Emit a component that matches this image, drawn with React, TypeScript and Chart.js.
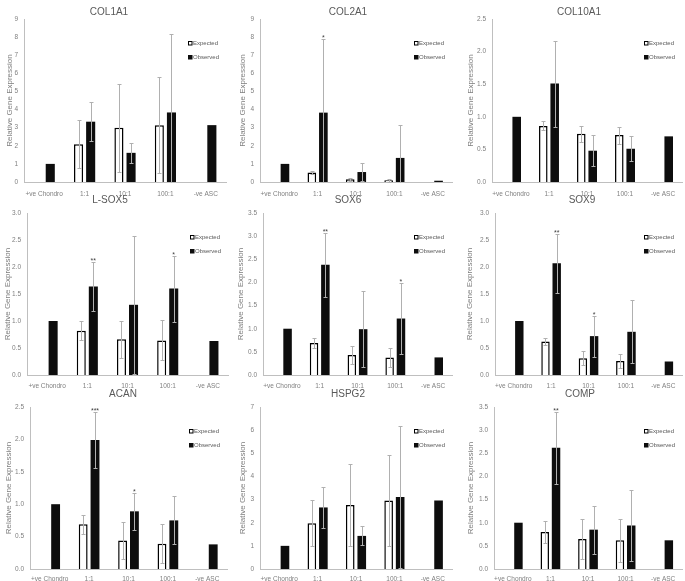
import React, { useEffect, useRef } from "react";
import { Chart, registerables } from "chart.js";

Chart.register(...registerables);

// ---------- data ----------
const categories = ["+ve Chondro", "1:1", "10:1", "100:1", "-ve ASC"];
const seriesNames = ["Expected", "Observed"];
const axisTitle = "Relative Gene Expression";

const col1a1Expected = [null, 2.09, 2.99, 3.14, null];
const col1a1ExpectedErr = [null, 1.33, 2.42, 2.65, null];
const col1a1Observed = [1.0, 3.33, 1.61, 3.84, 3.14];
const col1a1ObservedErr = [0, 1.07, 0.57, 4.35, 0];
const col1a1Stars = ["", "", "", "", ""];

const col2a1Expected = [null, 0.52, 0.15, 0.09, null];
const col2a1ExpectedErr = [null, 0.07, 0.08, 0.08, null];
const col2a1Observed = [1.0, 3.83, 0.55, 1.33, 0.07];
const col2a1ObservedErr = [0, 4.06, 0.5, 1.8, 0];
const col2a1Stars = ["", "*", "", "", ""];

const col10a1Expected = [null, 0.86, 0.74, 0.72, null];
const col10a1ExpectedErr = [null, 0.07, 0.12, 0.13, null];
const col10a1Observed = [1.0, 1.51, 0.48, 0.51, 0.7];
const col10a1ObservedErr = [0, 0.66, 0.24, 0.19, 0];
const col10a1Stars = ["", "", "", "", ""];

const lsox5Expected = [null, 0.82, 0.66, 0.64, null];
const lsox5ExpectedErr = [null, 0.18, 0.34, 0.37, null];
const lsox5Observed = [1.0, 1.64, 1.3, 1.6, 0.63];
const lsox5ObservedErr = [0, 0.46, 1.28, 0.61, 0];
const lsox5Stars = ["", "**", "", "*", ""];

const sox6Expected = [null, 0.69, 0.43, 0.38, null];
const sox6ExpectedErr = [null, 0.1, 0.19, 0.21, null];
const sox6Observed = [1.0, 2.38, 0.99, 1.22, 0.38];
const sox6ObservedErr = [0, 0.69, 0.82, 0.77, 0];
const sox6Stars = ["", "**", "", "*", ""];

const sox9Expected = [null, 0.62, 0.31, 0.26, null];
const sox9ExpectedErr = [null, 0.07, 0.13, 0.13, null];
const sox9Observed = [1.0, 2.07, 0.72, 0.8, 0.25];
const sox9ObservedErr = [0, 0.55, 0.38, 0.58, 0];
const sox9Stars = ["", "**", "*", "", ""];

const acanExpected = [null, 0.69, 0.44, 0.39, null];
const acanExpectedErr = [null, 0.15, 0.28, 0.3, null];
const acanObserved = [1.0, 1.99, 0.89, 0.75, 0.38];
const acanObservedErr = [0, 0.43, 0.29, 0.37, 0];
const acanStars = ["", "***", "*", "", ""];

const hspg2Expected = [null, 1.98, 2.77, 2.96, null];
const hspg2ExpectedErr = [null, 0.98, 1.77, 1.95, null];
const hspg2Observed = [1.0, 2.66, 1.43, 3.11, 2.96];
const hspg2ObservedErr = [0, 0.88, 0.41, 3.08, 0];
const hspg2Stars = ["", "", "", "", ""];

const compExpected = [null, 0.8, 0.65, 0.62, null];
const compExpectedErr = [null, 0.24, 0.43, 0.46, null];
const compObserved = [1.0, 2.62, 0.85, 0.94, 0.62];
const compObservedErr = [0, 0.78, 0.52, 0.77, 0];
const compStars = ["", "**", "", "", ""];

const yMaxes = [9, 9, 2.5, 3, 3.5, 3, 2.5, 7, 3.5];
const ySteps = [1, 1, 0.5, 0.5, 0.5, 0.5, 0.5, 1, 0.5];
const yDecimals = [0, 0, 1, 1, 1, 1, 1, 0, 1];

type Panel = {
  title: string;
  expected: (number | null)[];
  expectedErr: (number | null)[];
  observed: number[];
  observedErr: number[];
  stars: string[];
};

const panels: Panel[] = [
  { title: "COL1A1", expected: col1a1Expected, expectedErr: col1a1ExpectedErr, observed: col1a1Observed, observedErr: col1a1ObservedErr, stars: col1a1Stars },
  { title: "COL2A1", expected: col2a1Expected, expectedErr: col2a1ExpectedErr, observed: col2a1Observed, observedErr: col2a1ObservedErr, stars: col2a1Stars },
  { title: "COL10A1", expected: col10a1Expected, expectedErr: col10a1ExpectedErr, observed: col10a1Observed, observedErr: col10a1ObservedErr, stars: col10a1Stars },
  { title: "L-SOX5", expected: lsox5Expected, expectedErr: lsox5ExpectedErr, observed: lsox5Observed, observedErr: lsox5ObservedErr, stars: lsox5Stars },
  { title: "SOX6", expected: sox6Expected, expectedErr: sox6ExpectedErr, observed: sox6Observed, observedErr: sox6ObservedErr, stars: sox6Stars },
  { title: "SOX9", expected: sox9Expected, expectedErr: sox9ExpectedErr, observed: sox9Observed, observedErr: sox9ObservedErr, stars: sox9Stars },
  { title: "ACAN", expected: acanExpected, expectedErr: acanExpectedErr, observed: acanObserved, observedErr: acanObservedErr, stars: acanStars },
  { title: "HSPG2", expected: hspg2Expected, expectedErr: hspg2ExpectedErr, observed: hspg2Observed, observedErr: hspg2ObservedErr, stars: hspg2Stars },
  { title: "COMP", expected: compExpected, expectedErr: compExpectedErr, observed: compObserved, observedErr: compObservedErr, stars: compStars },
];

// ---------- layout (absolute page pixels) ----------
type Frame = { x: number; y: number; w: number; h: number; L: number; R: number; T: number; B: number; yTitleX: number; titleX: number; titleY: number; xPad: number };

const frames: Frame[] = [
  { x: 0, y: 0, w: 230, h: 200, L: 24, R: 226, T: 19, B: 182, yTitleX: 9.5, titleX: 109, titleY: 12.5, xPad: 8 },
  { x: 228, y: 0, w: 228, h: 200, L: 260, R: 452, T: 19, B: 182, yTitleX: 243, titleX: 348, titleY: 12.5, xPad: 8 },
  { x: 455, y: 0, w: 230, h: 200, L: 492, R: 682, T: 19, B: 182, yTitleX: 471, titleX: 579, titleY: 12.5, xPad: 8 },
  { x: 0, y: 193, w: 230, h: 200, L: 27, R: 228, T: 213, B: 375, yTitleX: 7.5, titleX: 110, titleY: 200, xPad: 7 },
  { x: 228, y: 193, w: 228, h: 200, L: 263, R: 452, T: 213, B: 375, yTitleX: 241, titleX: 348, titleY: 200, xPad: 7 },
  { x: 455, y: 193, w: 230, h: 200, L: 495, R: 682, T: 213, B: 375, yTitleX: 470, titleX: 582, titleY: 200, xPad: 7 },
  { x: 0, y: 386, w: 230, h: 195, L: 30, R: 227, T: 407, B: 569, yTitleX: 8.5, titleX: 123, titleY: 394, xPad: 6 },
  { x: 228, y: 386, w: 228, h: 195, L: 260, R: 452, T: 407, B: 569, yTitleX: 243, titleX: 348, titleY: 394, xPad: 6 },
  { x: 455, y: 386, w: 230, h: 195, L: 494, R: 682, T: 407, B: 569, yTitleX: 471, titleX: 580, titleY: 394, xPad: 6 },
];

const FONT = "Arial, 'Liberation Sans', sans-serif";
const TEXT_DARK = "#595959";
const TEXT_MID = "#7f7f7f";
const AXIS_COLOR = "#bfbfbf";
const ERR_COLOR = "#b0b0b0";

function makeOverlay(p: Panel, f: Frame) {
  return {
    id: "overlay-" + p.title,
    afterDatasetsDraw(chart: any) {
      const ctx: CanvasRenderingContext2D = chart.ctx;
      const yScale = chart.scales.y;
      ctx.save();
      ctx.strokeStyle = ERR_COLOR;
      ctx.lineWidth = 1;
      const sets: [(number | null)[], (number | null)[]][] = [
        [p.expected, p.expectedErr],
        [p.observed, p.observedErr],
      ];
      sets.forEach(([vals, errs], di) => {
        const meta = chart.getDatasetMeta(di);
        meta.data.forEach((bar: any, i: number) => {
          const v = vals[i];
          const e = errs[i];
          if (v == null || !e) return;
          const x = Math.round(bar.x) + 0.5;
          const yT = Math.round(yScale.getPixelForValue(v + e)) + 0.5;
          const low = v - e;
          const yB = Math.round(yScale.getPixelForValue(Math.max(0, low))) + 0.5;
          ctx.beginPath();
          ctx.moveTo(x, yT);
          ctx.lineTo(x, yB);
          ctx.moveTo(x - 2, yT);
          ctx.lineTo(x + 2, yT);
          if (low > 0) {
            ctx.moveTo(x - 2, yB);
            ctx.lineTo(x + 2, yB);
          }
          ctx.stroke();
        });
      });
      // significance stars
      const obsMeta = chart.getDatasetMeta(1);
      ctx.fillStyle = "#404040";
      ctx.font = `7px ${FONT}`;
      ctx.textAlign = "center";
      ctx.textBaseline = "alphabetic";
      p.stars.forEach((s, i) => {
        if (!s) return;
        const bar: any = obsMeta.data[i];
        const yT = yScale.getPixelForValue(p.observed[i] + (p.observedErr[i] || 0));
        ctx.fillText(s, bar.x, yT + 1);
      });
      ctx.restore();
    },
    afterDraw(chart: any) {
      const ctx: CanvasRenderingContext2D = chart.ctx;
      ctx.save();
      // chart title
      ctx.fillStyle = TEXT_DARK;
      ctx.font = `10px ${FONT}`;
      ctx.textAlign = "center";
      ctx.textBaseline = "middle";
      ctx.fillText(p.title, f.titleX - f.x, f.titleY - f.y);
      // legend
      const bx = f.R - 38 - f.x;
      const rows = [f.T + 24 - f.y, f.T + 38 - f.y];
      ctx.font = `6px ${FONT}`;
      ctx.textAlign = "left";
      rows.forEach((ry, k) => {
        if (k === 0) {
          ctx.fillStyle = "#ffffff";
          ctx.fillRect(bx, ry - 2, 4, 4);
          ctx.strokeStyle = "#000000";
          ctx.lineWidth = 1;
          ctx.strokeRect(bx + 0.5, ry - 1.5, 3.5, 3.5);
        } else {
          ctx.fillStyle = "#0d0d0d";
          ctx.fillRect(bx, ry - 2, 4.5, 4.5);
        }
        ctx.fillStyle = TEXT_DARK;
        ctx.fillText(seriesNames[k], bx + 5, ry + 0.5);
      });
      ctx.restore();
    },
  };
}

function PanelChart({ index }: { index: number }) {
  const ref = useRef<HTMLCanvasElement | null>(null);
  const p = panels[index];
  const f = frames[index];
  useEffect(() => {
    if (!ref.current) return;
    const chart = new Chart(ref.current, {
      type: "bar",
      data: {
        labels: categories,
        datasets: [
          {
            label: seriesNames[0],
            data: p.expected,
            backgroundColor: "#ffffff",
            borderColor: "#000000",
            borderWidth: 1.5,
            categoryPercentage: 0.6,
            barPercentage: 0.75,
          },
          {
            label: seriesNames[1],
            data: p.observed,
            backgroundColor: "#0d0d0d",
            borderColor: "#0d0d0d",
            borderWidth: 0,
            categoryPercentage: 0.6,
            barPercentage: 0.75,
          },
        ],
      } as any,
      options: {
        responsive: false,
        animation: false,
        devicePixelRatio: 1,
        layout: {
          padding: { left: 0, right: f.x + f.w - f.R, top: f.T - f.y, bottom: 0 },
        },
        plugins: {
          legend: { display: false },
          title: { display: false },
          tooltip: { enabled: false },
        },
        scales: {
          x: {
            grid: { display: false, drawTicks: false, tickLength: 0 },
            border: { display: true, color: AXIS_COLOR, width: 1 },
            ticks: { color: TEXT_MID, font: { size: 6.5, family: FONT }, padding: f.xPad, maxRotation: 0, autoSkip: false },
            afterFit: (s: any) => {
              s.height = f.y + f.h - f.B;
            },
          },
          y: {
            min: 0,
            max: yMaxes[index],
            grid: { display: false, drawTicks: false, tickLength: 0 },
            border: { display: true, color: AXIS_COLOR, width: 1 },
            ticks: {
              stepSize: ySteps[index],
              color: TEXT_MID,
              font: { size: 6.5, family: FONT },
              padding: 6,
              callback: (v: any) => Number(v).toFixed(yDecimals[index]),
            },
            title: {
              display: true,
              text: axisTitle,
              color: TEXT_MID,
              font: { size: 8, family: FONT },
              padding: { top: Math.max(0, f.yTitleX - f.x - 4.8), bottom: 0 },
            },
            afterFit: (s: any) => {
              s.width = f.L - f.x;
            },
          },
        },
      } as any,
      plugins: [makeOverlay(p, f)],
    });
    return () => chart.destroy();
  }, [index]);
  return (
    <canvas
      ref={ref}
      width={f.w}
      height={f.h}
      style={{ position: "absolute", left: f.x, top: f.y, width: f.w, height: f.h }}
    />
  );
}

export default function App() {
  return (
    <div style={{ position: "absolute", left: 0, top: 0, width: 685, height: 581, background: "#ffffff", overflow: "hidden" }}>
      {panels.map((_, i) => (
        <PanelChart key={i} index={i} />
      ))}
    </div>
  );
}
